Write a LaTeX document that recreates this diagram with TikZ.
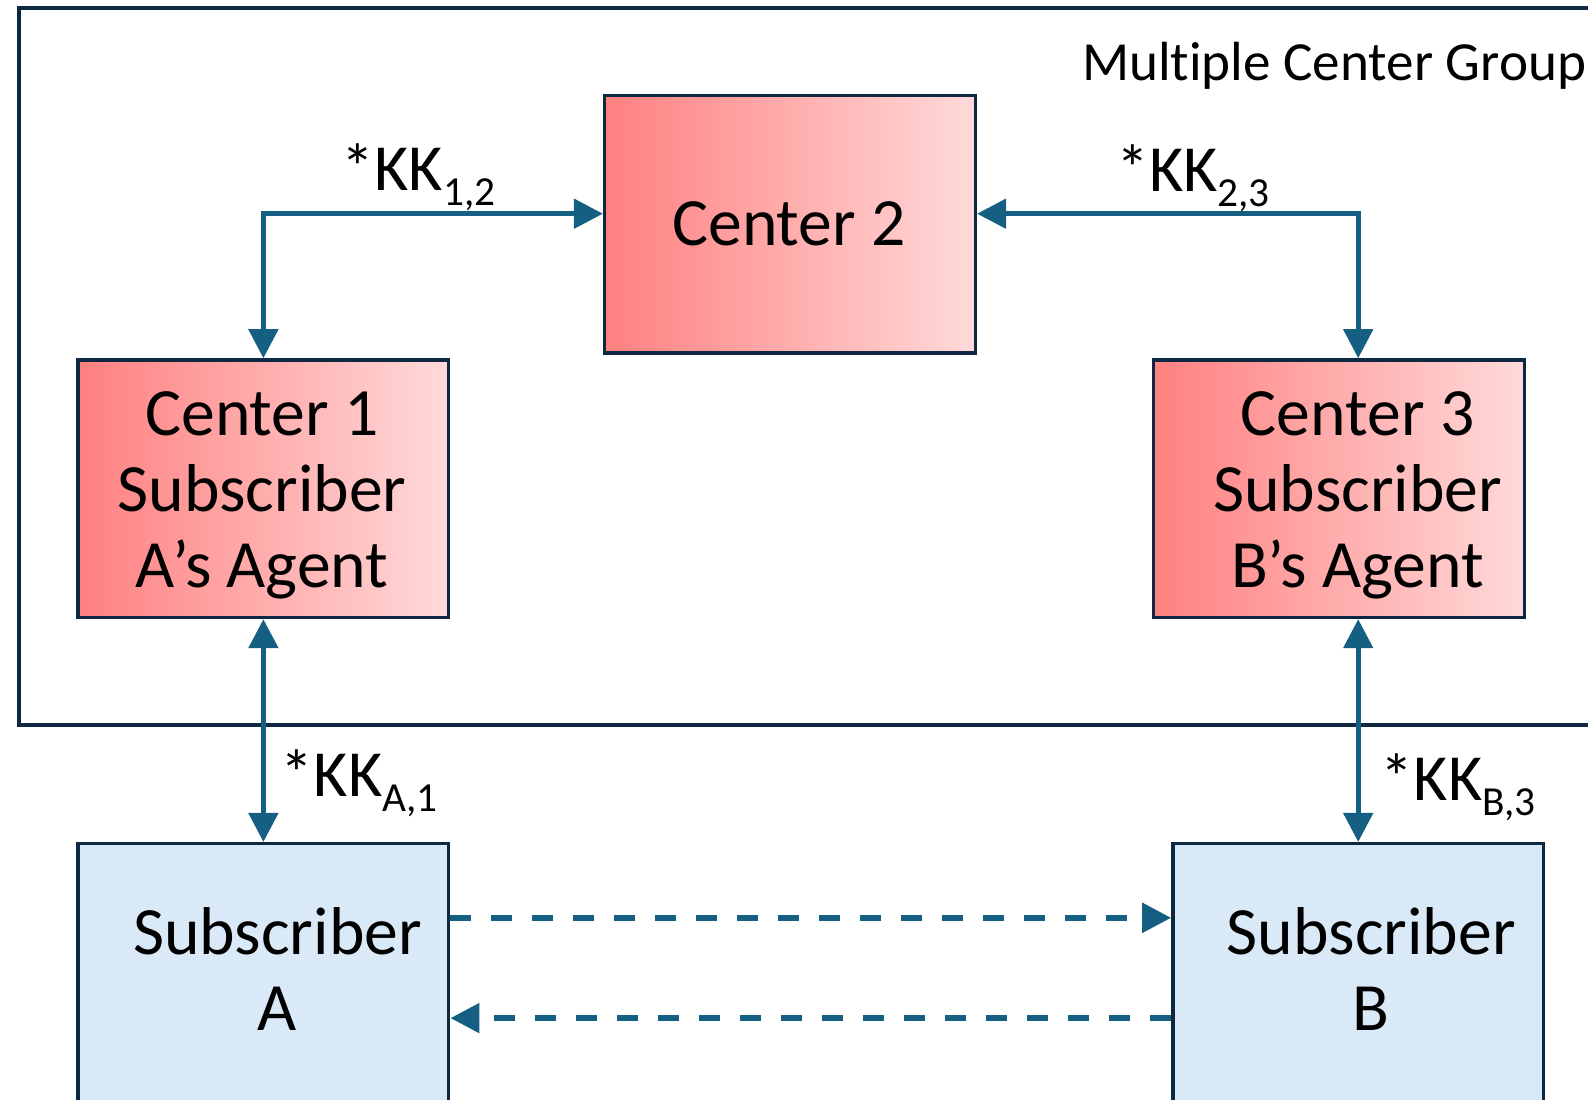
\documentclass[tikz,border=0pt]{standalone}
\usepackage{fontspec}
\setmainfont{Carlito}[Ligatures=NoCommon]
\usepackage{graphicx}
\usetikzlibrary{arrows.meta}
\definecolor{linkblue}{RGB}{21,96,130}
\definecolor{boxline}{RGB}{14,40,65}
\definecolor{redL}{RGB}{255,128,128}
\definecolor{redR}{RGB}{255,218,218}
\definecolor{subfill}{RGB}{218,233,247}
\tikzset{>={Triangle[length=0.58cm,width=0.58cm]}}
\tikzset{centerbox/.style = {shape=rectangle,draw=boxline,line width=0.07cm,left color=redL,right color=redR,minimum width=7.414cm,minimum height=5.15cm}}
\tikzset{subbox/.style = {shape=rectangle,draw=boxline,line width=0.07cm,fill=subfill,minimum width=7.414cm,minimum height=5.73cm}}
\tikzset{boxtext/.style = {align=center,inner sep=0pt,font=\fontsize{38.5}{43.2}\selectfont}}
\tikzset{keytext/.style = {anchor=base west,inner sep=0pt,font=\fontsize{37.5}{40}\selectfont}}
\tikzset{link/.style = {draw=linkblue,line width=0.1cm,<->}}
\tikzset{dashlink/.style = {draw=linkblue,line width=0.11cm,dash pattern=on 0.42cm off 0.4cm,->}}
\newcommand{\kkey}[1]{*KK\raisebox{-8.5pt}{\fontsize{23.5}{24}\selectfont #1}}

\begin{document}
\begin{tikzpicture}[x=0.02cm,y=-0.02cm]
                    \useasboundingbox (0,0) rectangle (1588,1099);
                    \clip (0,0) rectangle (1588,1099);

                    % group frame, right side runs off the page
                    \draw[boxline,line width=0.08cm] (19.2,8.1) rectangle (1640,725.2);
                    \node[anchor=base west,inner sep=0pt,font=\fontsize{31.4}{35}\selectfont] (group) at (1081.7,80.5) {Multiple Center Group};

                    \node[centerbox] (c2) at (790,224.3) {};
                    \node[centerbox] (c1) at (263.4,488.7) {};
                    \node[centerbox] (c3) at (1339,488.7) {};
                    \node[subbox] (subA) at (263.4,986.9) {};
                    \node[subbox] (subB) at (1358.2,986.9) {};

                    \node[boxtext] (c2txt) at (789,223.7) {Center 2};
                    \node[boxtext] (c1txt) at (262,495.6) {Center 1\\Subscriber\\A’s Agent};
                    \node[boxtext] (c3txt) at (1357.6,495.6) {Center 3\\Subscriber\\B’s Agent};
                    \node[boxtext] (subAtxt) at (277.5,969.3) {Subscriber\\A};
                    \node[boxtext] (subBtxt) at (1371.3,969.3) {Subscriber\\B};

                    \draw[link] (c1.north) |- ([yshift=0.212cm]c2.west);
                    \draw[link] ([yshift=0.212cm]c2.east) -| (c3.north -| subB.north);
                    \draw[link] (c1.south) -- (subA.north);
                    \draw[link] (c3.south -| subB.north) -- (subB.north);

                    \draw[dashlink] ([yshift=-1.518cm]subA.north east) -- ([yshift=-1.518cm]subB.north west);
                    \draw[dashlink] ([yshift=-3.524cm]subB.north west) -- ([yshift=-3.524cm]subA.north east);

                    \node[keytext] (k12) at (341.5,190.7) {\kkey{1,2}};
                    \node[keytext] (k23) at (1116,191.7) {\kkey{2,3}};
                    \node[keytext] (kA1) at (280.6,796.7) {\kkey{A,1}};
                    \node[keytext] (kB3) at (1380.6,800.7) {\kkey{B,3}};
                \end{tikzpicture}
\end{document}
